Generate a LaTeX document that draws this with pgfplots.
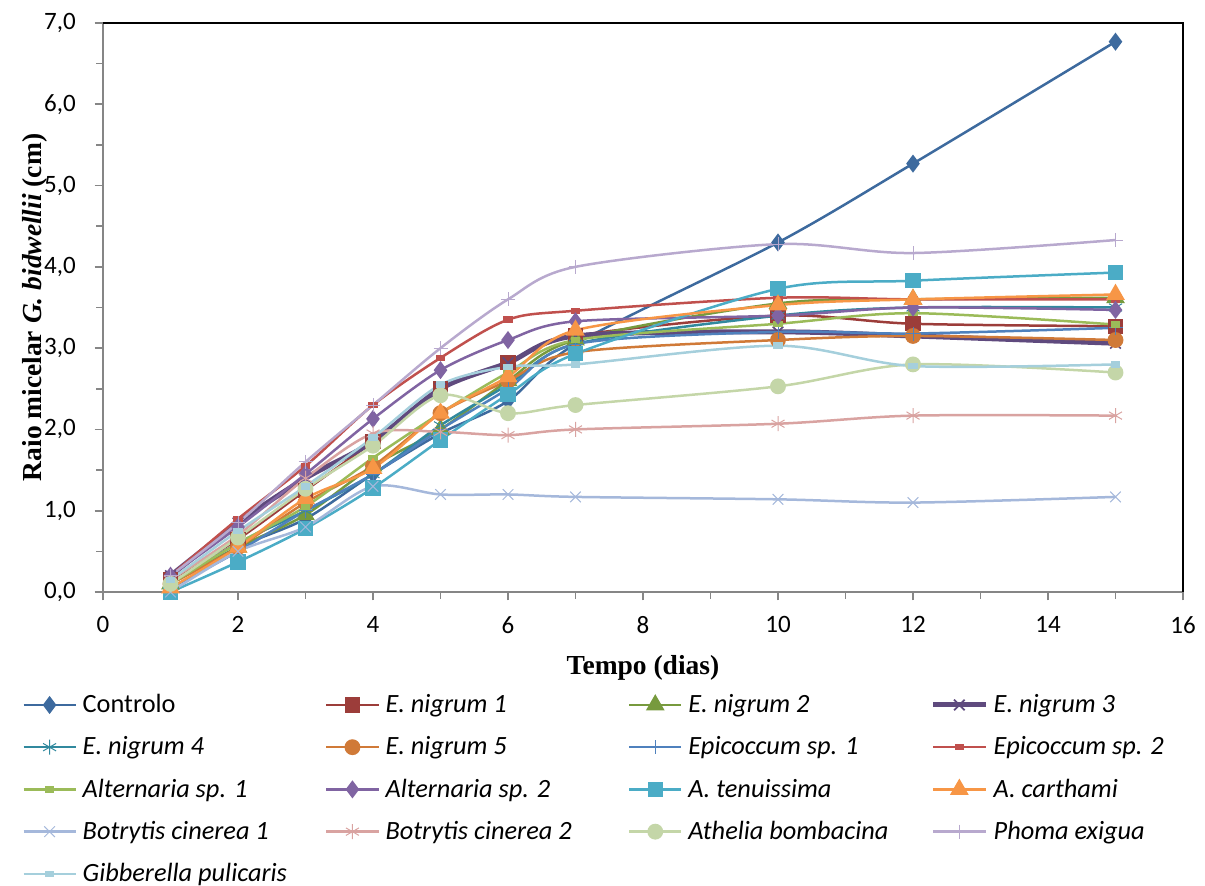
\documentclass[border=0pt]{standalone}
\usepackage{pgfplots}
\pgfplotsset{compat=1.18}
\usepackage{fontspec}
\setmainfont{Carlito}
\newfontfamily\tnr{Liberation Serif}
\definecolor{c1}{HTML}{3D6A9E}
\definecolor{c2}{HTML}{9C3D3A}
\definecolor{c3}{HTML}{779A3E}
\definecolor{c4}{HTML}{5F4A7E}
\definecolor{c5}{HTML}{31899E}
\definecolor{c6}{HTML}{D07A38}
\definecolor{c7}{HTML}{4F81BD}
\definecolor{c8}{HTML}{C0504D}
\definecolor{c9}{HTML}{9BBB59}
\definecolor{c10}{HTML}{8064A2}
\definecolor{c11}{HTML}{4BACC6}
\definecolor{c12}{HTML}{F79646}
\definecolor{c13}{HTML}{A5B8DB}
\definecolor{c14}{HTML}{D9A3A1}
\definecolor{c15}{HTML}{C4D6A8}
\definecolor{c16}{HTML}{B8A9CE}
\definecolor{c17}{HTML}{A5CFDC}
\definecolor{axgray}{HTML}{868686}
\newcommand{\lgent}[1]{\makebox[143.5pt][l]{#1}}
\begin{document}
\begin{tikzpicture}
\path[use as bounding box] (-61.8pt,-176.4pt) rectangle (661.2pt,355.2pt);
\begin{axis}[
  scale only axis,
  width=648pt, height=341.4pt,
  xmin=0, xmax=16, ymin=0, ymax=7,
  xtick={0,2,...,16}, minor xtick={1,3,...,15},
  ytick={0,1,...,7}, minor ytick={0.5,1.5,...,6.5},
  tick align=outside,
  major tick length=5pt, minor tick length=4pt,
  every tick/.style={axgray, line width=1pt},
  axis line style={axgray, line width=1.6pt},
  separate axis lines,
  axis x line*=bottom, axis y line*=left,
  xtick pos=bottom, ytick pos=left,
  tick label style={font=\fontsize{15}{17}\selectfont},
  /pgf/number format/assume math mode=true,
  yticklabel style={xshift=-7.8pt, /pgf/number format/.cd, fixed, fixed zerofill, precision=1, use comma},
  xticklabel style={yshift=-6pt, /pgf/number format/.cd, fixed, precision=0},
  xlabel={\tnr\bfseries Tempo (dias)},
  ylabel={\tnr\bfseries Raio micelar \textit{G. bidwellii} (cm)},
  label style={font=\fontsize{16.5}{18}\selectfont},
  ylabel style={yshift=-9pt},
  xlabel style={yshift=-6.5pt},
  every axis plot/.append style={smooth, tension=0.5, line width=1.5pt, mark options={solid, line width=0.6pt}},
  legend columns=4,
  legend cell align=left,
  legend style={at={(-0.0796,-0.168)}, anchor=north west, draw=none, fill=none,
    font=\fontsize{15.8}{18}\selectfont, row sep=8.9pt,
    /tikz/every odd column/.append style={column sep=1.5pt}},
  legend image code/.code={\draw[mark repeat=2, mark phase=2, #1] plot coordinates {(0pt,0pt) (15.6pt,0pt) (31.2pt,0pt)};},
  after end axis/.code={\draw[black, line width=1.5pt] (rel axis cs:0,1) -- (rel axis cs:1,1) -- (rel axis cs:1,0);},
  clip=false
]
% Controlo
\addplot[c1, mark=diamond*, mark size=4.2pt, mark options={fill=c1}] coordinates {(1,0.10) (2,0.55) (3,0.90) (4,1.45) (5,1.95) (6,2.35) (7,3.05) (10,4.30) (12,5.27) (15,6.77)};
\addlegendentry{\lgent{Controlo}}
% E. nigrum 1
\addplot[c2, mark=square*, mark size=3.8pt, mark options={fill=c2}] coordinates {(1,0.15) (2,0.65) (3,1.25) (4,1.85) (5,2.50) (6,2.82) (7,3.15) (10,3.40) (12,3.30) (15,3.27)};
\addlegendentry{\lgent{\itshape E. nigrum 1}}
% E. nigrum 2
\addplot[c3, mark=triangle*, mark size=5pt, mark options={fill=c3}] coordinates {(1,0.10) (2,0.55) (3,0.95) (4,1.55) (5,2.00) (6,2.60) (7,3.10) (10,3.55) (12,3.60) (15,3.62)};
\addlegendentry{\lgent{\itshape E. nigrum 2}}
% E. nigrum 3
\addplot[c4, line width=3pt, mark=x, mark size=4.5pt, mark options={line width=1pt}] coordinates {(1,0.20) (2,0.85) (3,1.40) (4,1.85) (5,2.50) (6,2.82) (7,3.15) (10,3.20) (12,3.15) (15,3.06)};
\addlegendentry{\lgent{\itshape E. nigrum 3}}
% E. nigrum 4
\addplot[c5, mark=asterisk, mark size=4.5pt] coordinates {(1,0.10) (2,0.60) (3,1.00) (4,1.45) (5,2.05) (6,2.55) (7,3.05) (10,3.40) (12,3.50) (15,3.50)};
\addlegendentry{\lgent{\itshape E. nigrum 4}}
% E. nigrum 5
\addplot[c6, mark=*, mark size=4pt, mark options={fill=c6}] coordinates {(1,0.10) (2,0.55) (3,1.10) (4,1.55) (5,2.20) (6,2.60) (7,2.95) (10,3.10) (12,3.15) (15,3.10)};
\addlegendentry{\lgent{\itshape E. nigrum 5}}
% Epicoccum sp. 1
\addplot[c7, mark=+, mark size=4.2pt] coordinates {(1,0.05) (2,0.50) (3,1.00) (4,1.45) (5,2.00) (6,2.50) (7,3.05) (10,3.20) (12,3.18) (15,3.25)};
\addlegendentry{\lgent{\itshape Epicoccum sp. 1}}
% Epicoccum sp. 2
\addplot[c8, mark=square*, mark size=2pt, mark options={fill=c8, yscale=0.6}] coordinates {(1,0.20) (2,0.90) (3,1.55) (4,2.30) (5,2.88) (6,3.35) (7,3.46) (10,3.62) (12,3.60) (15,3.60)};
\addlegendentry{\lgent{\itshape Epicoccum sp. 2}}
% Alternaria sp. 1
\addplot[c9, mark=square*, mark size=2pt, mark options={fill=c9, yscale=0.6}] coordinates {(1,0.10) (2,0.60) (3,1.05) (4,1.65) (5,2.20) (6,2.70) (7,3.10) (10,3.30) (12,3.43) (15,3.29)};
\addlegendentry{\lgent{\itshape Alternaria sp. 1}}
% Alternaria sp. 2
\addplot[c10, mark=diamond*, mark size=4.2pt, mark options={fill=c10}] coordinates {(1,0.20) (2,0.80) (3,1.45) (4,2.13) (5,2.73) (6,3.10) (7,3.33) (10,3.40) (12,3.50) (15,3.47)};
\addlegendentry{\lgent{\itshape Alternaria sp. 2}}
% A. tenuissima
\addplot[c11, mark=square*, mark size=3.8pt, mark options={fill=c11}] coordinates {(1,0.00) (2,0.37) (3,0.78) (4,1.28) (5,1.87) (6,2.43) (7,2.93) (10,3.73) (12,3.83) (15,3.93)};
\addlegendentry{\lgent{\itshape A. tenuissima}}
% A. carthami
\addplot[c12, mark=triangle*, mark size=5pt, mark options={fill=c12}] coordinates {(1,0.05) (2,0.55) (3,1.15) (4,1.52) (5,2.20) (6,2.65) (7,3.22) (10,3.53) (12,3.60) (15,3.66)};
\addlegendentry{\lgent{\itshape A. carthami}}
% Botrytis cinerea 1
\addplot[c13, mark=x, mark size=4.5pt] coordinates {(1,0.00) (2,0.50) (3,0.80) (4,1.30) (5,1.20) (6,1.20) (7,1.17) (10,1.14) (12,1.10) (15,1.17)};
\addlegendentry{\lgent{\itshape Botrytis cinerea 1}}
% Botrytis cinerea 2
\addplot[c14, mark=asterisk, mark size=4.5pt] coordinates {(1,0.15) (2,0.70) (3,1.40) (4,1.95) (5,1.97) (6,1.93) (7,2.00) (10,2.07) (12,2.17) (15,2.17)};
\addlegendentry{\lgent{\itshape Botrytis cinerea 2}}
% Athelia bombacina
\addplot[c15, mark=*, mark size=4pt, mark options={fill=c15}] coordinates {(1,0.10) (2,0.67) (3,1.27) (4,1.80) (5,2.42) (6,2.20) (7,2.30) (10,2.53) (12,2.80) (15,2.70)};
\addlegendentry{\lgent{\itshape Athelia bombacina}}
% Phoma exigua
\addplot[c16, mark=+, mark size=4.2pt] coordinates {(1,0.20) (2,0.85) (3,1.60) (4,2.30) (5,3.00) (6,3.60) (7,4.00) (10,4.28) (12,4.17) (15,4.33)};
\addlegendentry{\lgent{\itshape Phoma exigua}}
% Gibberella pulicaris
\addplot[c17, mark=square*, mark size=2pt, mark options={fill=c17, yscale=0.6}] coordinates {(1,0.15) (2,0.75) (3,1.30) (4,1.90) (5,2.55) (6,2.77) (7,2.80) (10,3.03) (12,2.78) (15,2.80)};
\addlegendentry{\lgent{\itshape Gibberella pulicaris}}
\end{axis}
\end{tikzpicture}
\end{document}
